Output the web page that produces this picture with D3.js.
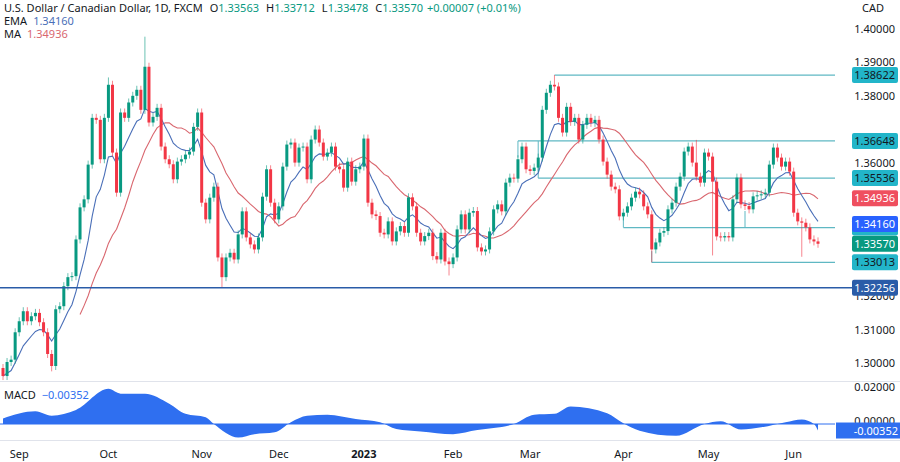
<!DOCTYPE html>
<html><head><meta charset="utf-8">
<script src="https://cdn.jsdelivr.net/npm/d3@7"></script>
<style>body{margin:0;background:#fff;font-family:"Noto Sans",Roboto,sans-serif}</style>
</head><body><svg id="c" width="900" height="462"></svg>
<script>
// closes, one per trading day
var closes = [1.2961,1.3003,1.301,1.3092,1.3125,1.3155,1.3125,1.314,1.315,1.3122,1.3092,1.3027,1.2991,1.3161,1.317,1.323,1.3257,1.326,1.337,1.3466,1.349,1.3594,1.3734,1.3728,1.361,1.3734,1.3833,1.363,1.351,1.375,1.3734,1.378,1.380,1.3818,
 1.3758,1.3887,1.372,1.3737,1.3764,1.3648,1.361,1.3595,1.355,1.3603,1.361,1.3624,1.3633,1.3707,1.375,1.348,1.343,1.3495,1.3528,1.3316,1.3257,1.3316,1.333,1.331,1.3385,1.3454,1.3376,1.3355,1.334,1.3376,1.3498,1.358,
 1.348,1.343,1.3469,1.3588,1.3654,1.366,1.36,1.3645,1.3648,1.355,1.3669,1.3699,1.366,1.3618,1.363,1.3648,1.3588,1.358,1.3525,1.3603,1.3543,1.358,1.3588,1.3672,1.348,1.3445,1.344,1.339,1.3385,1.3424,1.3364,1.3394,1.341,
 1.339,1.3496,1.3469,1.339,1.3364,1.338,1.339,1.332,1.331,1.339,1.3304,1.3296,1.3316,1.34,1.3445,1.34,1.345,1.3455,1.3346,1.3334,1.334,1.3394,1.346,1.3475,1.3454,1.354,1.3555,1.3552,1.361,1.3648,1.358,1.3575,1.3585,1.3615,
 1.3758,1.3809,1.3833,1.3828,1.3734,1.369,1.3767,1.3722,1.3734,1.3669,1.3713,1.3734,1.3719,1.3728,1.3669,1.3603,1.3564,1.3528,1.352,1.3439,1.345,1.3469,1.3495,1.3513,1.3505,1.3469,1.3445,1.334,1.3361,1.339,1.3395,1.346,1.348,
 1.3528,1.3558,1.3633,1.3648,1.36,1.3558,1.354,1.363,1.3618,1.3543,1.3379,1.3376,1.338,1.3376,1.349,1.3555,1.3475,1.347,1.346,1.3499,1.3502,1.3505,1.351,1.3594,1.3645,1.3615,1.3588,1.3603,1.3573,1.345,1.3424,1.342,1.3406,1.337,1.3364,1.3357];
var firstOpen = 1.2985;
var highOverride = {35:1.3977, 26:1.3855, 136:1.38622, 171:1.3668};
var lowOverride = {54:1.3225, 12:1.2975, 110:1.3262, 160:1.33013, 175:1.3322, 197:1.3318};
var wick = 0.0012;

var macdIdx = [0,8,12,18,26,29,35,41,45,50,52,58,62,67,71,75,80,87,93,97,103,111,117,121,126,131,136,140,149,153,157,166,173,177,182,187,193,197,200,201];
var macdVal = [0.003,0.0069,0.0045,0.0076,0.019,0.0164,0.0164,0.011,0.0055,0.0036,0,-0.0073,-0.0055,-0.0045,0.001,0.0045,0.005,0.0027,0.001,-0.0027,-0.004,-0.0055,-0.0033,-0.0022,0,0.005,0.0055,0.0095,0.0058,0.0004,-0.0036,-0.0064,0,0.0015,-0.003,-0.0018,0.001,0.0025,0,-0.0035];

var monthLabels = ["Sep","Oct","Nov","Dec","2023","Feb","Mar","Apr","May","Jun"];
var monthIdx = [4,26,49,68,89,111,130,153,174,195];
var priceTicks = [1.30,1.31,1.32,1.33,1.34,1.35,1.36,1.37,1.38,1.39,1.40];
var levels = [
  {v:1.38622, from:136}, {v:1.36648, from:127}, {v:1.35536, from:132},
  {v:1.34056, from:153}, {v:1.33013, from:160}];
var blueLevel = 1.32256;
var emaLast = 1.34160, maLast = 1.34936, macdLast = -0.00352;

var svg = d3.select("#c");
var x = d3.scaleLinear().domain([0, closes.length-1]).range([3, 818]);
var y = d3.scaleLinear().domain([1.30, 1.40]).range([363, 29]);
var ym = d3.scaleLinear().domain([0, 0.02]).range([424, 387]);

var data = closes.map(function(c, i) {
  var o = i == 0 ? firstOpen : closes[i-1];
  var h = highOverride[i] || Math.max(o, c) + wick;
  var l = lowOverride[i] || Math.min(o, c) - wick;
  return {i:i, o:o, c:c, h:h, l:l};
});

// indicators
var ema = [], k = 2/(9+1);
closes.forEach(function(c, i){ ema.push(i==0 ? c : c*k + ema[i-1]*(1-k)); });
var ma = closes.map(function(c, i){ return i < 19 ? null : d3.mean(closes.slice(i-19, i+1)); });

var green = "#089981", red = "#f23645";
svg.append("defs").append("clipPath").attr("id","pc").append("rect").attr("width",835).attr("height",381);
var pane = svg.append("g").attr("clip-path","url(#pc)");

svg.append("line").attr("x1",0).attr("x2",900).attr("y1",381.5).attr("y2",381.5).attr("stroke","#e0e3eb");
svg.append("line").attr("x1",0).attr("x2",900).attr("y1",440.5).attr("y2",440.5).attr("stroke","#e0e3eb");

// axis ticks, hidden where a price tag sits on top
var tagVals = [1.34936, emaLast, 1.34056, closes[closes.length-1], 1.33013, 1.35536, 1.36648, 1.38622];
svg.selectAll(".pt").data(priceTicks.filter(function(t){
    return !tagVals.some(function(v){ return Math.abs(y(v)-y(t)) < 12; });
  })).enter().append("text")
  .attr("x",895).attr("y",function(d){return y(d)+4;}).attr("text-anchor","end")
  .attr("font-size",11).attr("fill","#131722").text(function(d){return d.toFixed(5);});
svg.append("text").attr("x",862).attr("y",12).attr("font-size",11).attr("fill","#131722").text("CAD");

// levels
levels.forEach(function(L){
  pane.append("line").attr("x1",x(L.from)).attr("x2",835).attr("y1",y(L.v)).attr("y2",y(L.v)).attr("stroke","#5fb8c3").attr("stroke-width",1.2);
});
pane.append("line").attr("x1",x(127)).attr("x2",x(127)).attr("y1",y(1.36648)).attr("y2",y(1.3615)).attr("stroke","#5fb8c3");
pane.append("line").attr("x1",x(132)).attr("x2",x(132)).attr("y1",y(1.36648)).attr("y2",y(1.35536)).attr("stroke","#5fb8c3");
pane.append("line").attr("x1",x(153)).attr("x2",x(153)).attr("y1",y(1.34056)).attr("y2",y(1.3445)).attr("stroke","#5fb8c3");
pane.append("line").attr("x1",x(183)).attr("x2",x(183)).attr("y1",y(1.34056)).attr("y2",y(1.3455)).attr("stroke","#5fb8c3");
pane.append("line").attr("x1",x(160)).attr("x2",x(160)).attr("y1",y(1.33013)).attr("y2",y(1.3335)).attr("stroke","#5fb8c3");
svg.append("line").attr("x1",0).attr("x2",852).attr("y1",y(blueLevel)).attr("y2",y(blueLevel)).attr("stroke","#2a5ca8").attr("stroke-width",1.5);

// moving averages
var ln = d3.line().defined(function(d){return d!=null;}).x(function(d,i){return x(i);}).y(function(d){return y(d);});
pane.append("path").datum(ma).attr("d",ln).attr("fill","none").attr("stroke","#d9676f").attr("stroke-width",1.1);
pane.append("path").datum(ema).attr("d",ln).attr("fill","none").attr("stroke","#4a6fb8").attr("stroke-width",1.1);

// candles
var cg = pane.selectAll(".cd").data(data).enter().append("g");
cg.append("line").attr("x1",function(d){return x(d.i);}).attr("x2",function(d){return x(d.i);})
  .attr("y1",function(d){return y(d.h);}).attr("y2",function(d){return y(d.l);})
  .attr("stroke",function(d){return d.c>=d.o?green:red;}).attr("stroke-opacity",0.6);
cg.append("rect").attr("x",function(d){return x(d.i)-1.5;}).attr("width",3)
  .attr("y",function(d){return y(Math.max(d.o,d.c));})
  .attr("height",function(d){return Math.max(1, Math.abs(y(d.o)-y(d.c)));})
  .attr("fill",function(d){return d.c>=d.o?green:red;});

// MACD
var macdPts = macdIdx.map(function(d,i){return [d, macdVal[i]];});
svg.append("path").datum(macdPts)
  .attr("d", d3.area().curve(d3.curveMonotoneX).x(function(d){return x(d[0]);}).y0(ym(0)).y1(function(d){return ym(d[1]);}))
  .attr("fill","#2f6ff0");
svg.append("line").attr("x1",0).attr("x2",835).attr("y1",ym(0)).attr("y2",ym(0)).attr("stroke","#2f6ff0");
svg.append("text").attr("x",895).attr("y",ym(0.02)+4).attr("text-anchor","end").attr("font-size",11).attr("fill","#131722").text("0.02000");
svg.append("text").attr("x",895).attr("y",ym(0)+1).attr("text-anchor","end").attr("font-size",11).attr("fill","#131722").text("0.00000");

// price tags on the axis
function tag(v, bg, fg, txt) {
  var g = svg.append("g").attr("transform","translate(852,"+(y(v)-8)+")");
  g.append("rect").attr("width",46).attr("height",16).attr("rx",2).attr("fill",bg);
  g.append("text").attr("x",43).attr("y",12).attr("text-anchor","end").attr("font-size",11).attr("fill",fg).text(txt);
}
levels.forEach(function(L){ tag(L.v, "#22b5c9", "#131722", L.v.toFixed(5)); });
tag(blueLevel, "#2a5ca8", "#fff", blueLevel.toFixed(5));
tag(maLast, "#ef4f5f", "#fff", maLast.toFixed(5));
tag(emaLast, "#2962ff", "#fff", emaLast.toFixed(5));
tag(closes[closes.length-1], green, "#fff", closes[closes.length-1].toFixed(5));
var mg = svg.append("g").attr("transform","translate(836,"+(ym(macdLast)-8)+")");
mg.append("rect").attr("width",64).attr("height",16).attr("fill","#2f6ff0");
mg.append("text").attr("x",62).attr("y",12).attr("text-anchor","end").attr("font-size",11).attr("fill","#fff").text(macdLast.toFixed(5));

// month axis
svg.selectAll(".mt").data(monthLabels).enter().append("text")
  .attr("x",function(d,i){return x(monthIdx[i]);}).attr("y",458).attr("text-anchor","middle")
  .attr("font-size",11).attr("font-weight",function(d){return d=="2023"?"bold":"normal";})
  .attr("fill","#131722").text(function(d){return d;});

// header
var hd = svg.append("text").attr("x",4).attr("y",12).attr("font-size",11).attr("xml:space","preserve");
hd.append("tspan").attr("fill","#131722").text("U.S. Dollar / Canadian Dollar, 1D, FXCM");
["O","H","L","C"].forEach(function(k, i){
  var v = ["1.33563","1.33712","1.33478","1.33570"][i];
  hd.append("tspan").attr("fill","#131722").attr("dx",7).text(k);
  hd.append("tspan").attr("fill",green).text(v);
});
hd.append("tspan").attr("fill",green).attr("dx",4).text("+0.00007 (+0.01%)");
var e = svg.append("text").attr("x",4).attr("y",25).attr("font-size",11);
e.append("tspan").attr("fill","#131722").text("EMA");
e.append("tspan").attr("fill","#4a6fb8").attr("dx",6).text(emaLast.toFixed(5));
var m = svg.append("text").attr("x",4).attr("y",38).attr("font-size",11);
m.append("tspan").attr("fill","#131722").text("MA");
m.append("tspan").attr("fill","#d9676f").attr("dx",6).text(maLast.toFixed(5));
var mc = svg.append("text").attr("x",4).attr("y",399).attr("font-size",11);
mc.append("tspan").attr("fill","#131722").text("MACD");
mc.append("tspan").attr("fill","#2f6ff0").attr("dx",6).text("−0.00352");
</script></body></html>
